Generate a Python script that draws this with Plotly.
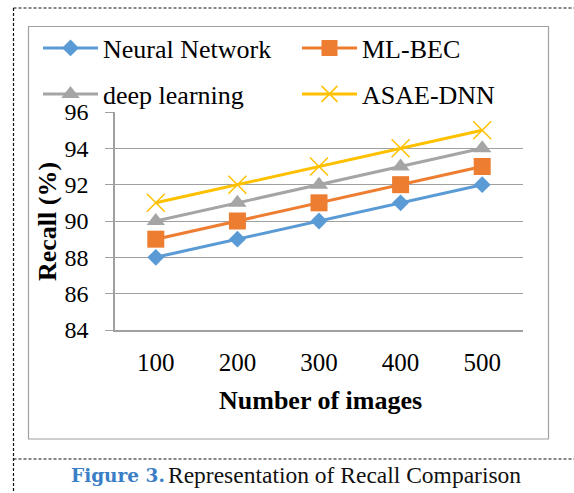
import plotly.graph_objects as go

categories = ["100", "200", "300", "400", "500"]
neural_network = [88, 89, 90, 91, 92]
ml_bec = [89, 90, 91, 92, 93]
deep_learning = [90, 91, 92, 93, 94]
asae_dnn = [91, 92, 93, 94, 95]
y_ticks = [84, 86, 88, 90, 92, 94, 96]

W, H = 574, 493
L, R, T, B = 115, 523, 112, 330
PW, PH = R - L, B - T


def px(x):
    return (x - L) / PW


def py(y):
    return (B - y) / PH


SERIF = "Liberation Serif, Times New Roman, serif"

fig = go.Figure()
fig.add_trace(go.Scatter(x=categories, y=neural_network, name="Neural Network", mode="lines+markers",
                         line=dict(color="#5B9BD5", width=3),
                         marker=dict(symbol="diamond", size=13, color="#5B9BD5"), legend="legend",
                         showlegend=True))
fig.add_trace(go.Scatter(x=categories, y=ml_bec, name="ML-BEC", mode="lines+markers",
                         line=dict(color="#ED7D31", width=3),
                         marker=dict(symbol="square", size=17, color="#ED7D31"), legend="legend2",
                         showlegend=True))
fig.add_trace(go.Scatter(x=categories, y=deep_learning, name="deep learning", mode="lines+markers",
                         line=dict(color="#A5A5A5", width=3),
                         marker=dict(symbol="triangle-up", size=16, color="#A5A5A5"), legend="legend3",
                         showlegend=True))
fig.add_trace(go.Scatter(x=categories, y=asae_dnn, name="ASAE-DNN", mode="lines+markers",
                         line=dict(color="#FFC000", width=3),
                         marker=dict(symbol="x-thin-open", size=18, color="#FFC000",
                                     line=dict(color="#FFC000", width=1.5)), legend="legend4",
                         showlegend=True))

shapes = []
dash = dict(color="#111111", width=1.2, dash="3px,2px")
shapes.append(dict(type="line", xref="paper", yref="paper", x0=px(13.5), x1=px(13.5), y0=py(8), y1=py(493), line=dash))
shapes.append(dict(type="line", xref="paper", yref="paper", x0=px(13.5), x1=px(574), y0=py(8), y1=py(8), line=dash))
shapes.append(dict(type="line", xref="paper", yref="paper", x0=px(13.5), x1=px(574), y0=py(459), y1=py(459), line=dash))
shapes.append(dict(type="rect", xref="paper", yref="paper", x0=px(28.5), x1=px(548.5), y0=py(26.5), y1=py(439),
                   line=dict(color="#A0A0A0", width=1.2)))

annotations = [
    dict(text="<b>Recall (%)</b>", x=px(47), y=py(222), xref="paper", yref="paper", showarrow=False,
         textangle=-90, font=dict(family=SERIF, size=26, color="#000000"), xanchor="center", yanchor="middle"),
    dict(text="<b>Number of images</b>", x=px(320), y=py(400), xref="paper", yref="paper", showarrow=False,
         font=dict(family=SERIF, size=26, color="#000000"), xanchor="center", yanchor="middle"),
    dict(text="<b>Figure 3.</b>", x=px(69), y=py(475), xref="paper", yref="paper", showarrow=False,
         font=dict(family="DejaVu Serif, Georgia, serif", size=18.5, color="#3A7EC6"), xanchor="left", yanchor="middle"),
    dict(text="Representation of Recall Comparison", x=px(523), y=py(475), xref="paper", yref="paper",
         showarrow=False, font=dict(family=SERIF, size=23.5, color="#111111"), xanchor="right", yanchor="middle"),
]


def leg(xp, yp):
    return dict(orientation="v", x=px(xp), y=py(yp), xanchor="left", yanchor="middle",
                font=dict(family=SERIF, size=26), itemwidth=55,
                bgcolor="rgba(0,0,0,0)", borderwidth=0, visible=True)


fig.update_layout(
    width=W, height=H,
    margin=dict(l=L, r=W - R, t=T, b=H - B, pad=0),
    paper_bgcolor="white", plot_bgcolor="white",
    shapes=shapes, annotations=annotations, showlegend=True,
    font=dict(family=SERIF, size=24, color="#000000"),
    legend=leg(38, 48), legend2=leg(297, 48), legend3=leg(38, 94), legend4=leg(297, 94),
    xaxis=dict(type="category", range=[-0.5, 4.5], showgrid=False, showline=True, linecolor="#A0A0A0",
               linewidth=1.5, ticks="", tickfont=dict(family=SERIF, size=25), ticklabelstandoff=9,
               zeroline=False, fixedrange=True),
    yaxis=dict(range=[84, 96], tickvals=y_ticks, showgrid=True, gridcolor="#A0A0A0", gridwidth=1.2,
               showline=True, linecolor="#A0A0A0", linewidth=1.5, ticks="outside", ticklen=8,
               tickcolor="#A0A0A0", tickfont=dict(family=SERIF, size=24), ticklabelstandoff=12,
               zeroline=False, fixedrange=True),
)

fig.write_html("out.html")
